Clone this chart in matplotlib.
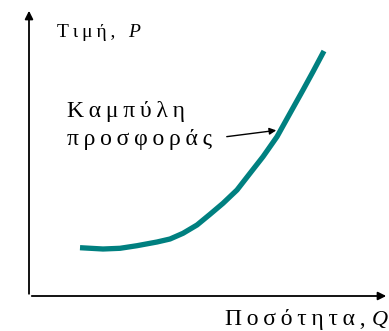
import numpy as np
import matplotlib.pyplot as plt

# supply curve (Q right, P up, in pixel-ish units)
quantity = [80, 103, 120, 137, 157, 170, 183, 197, 210, 223, 237, 250, 263, 277, 290, 303, 313, 324]
price = [83.3, 82, 82.7, 85.3, 89, 92, 97.7, 106, 116.7, 127.7, 141, 157.7, 174.3, 194.3, 217.7, 241, 259.3, 280]

price_label = 'Τιμή,'
qty_label = 'Ποσότητα,'
curve_label = ['Καμπύλη', 'προσφοράς']

def spaced(s, sep='\u2009'):
    return sep.join(s)

fig = plt.figure(figsize=(3.89, 3.31), dpi=100)
ax = fig.add_axes([0, 0, 1, 1])
ax.set_xlim(0, 389)
ax.set_ylim(0, 331)
ax.axis('off')

# axes with arrows
ax.annotate('', xy=(389, 35), xytext=(29, 35),
            arrowprops=dict(arrowstyle='-|>', color='black', lw=1.3, mutation_scale=12))
ax.annotate('', xy=(29, 323), xytext=(29, 34.4),
            arrowprops=dict(arrowstyle='-|>', color='black', lw=1.3, mutation_scale=12))

ax.plot(quantity, price, color='#008080', lw=3.8, solid_capstyle='butt')

serif = 'Liberation Serif'
ax.text(57, 294, spaced(price_label), fontsize=14, family=serif, va='baseline')
ax.text(128, 294, 'P', fontsize=14, family=serif, style='italic', va='baseline')

ax.text(67, 214, spaced(curve_label[0]), fontsize=17, family=serif, va='baseline')
ax.text(67, 186, spaced(curve_label[1]), fontsize=17, family=serif, va='baseline')
ax.annotate('', xy=(279, 201), xytext=(224, 194),
            arrowprops=dict(arrowstyle='-|>', color='black', lw=1, mutation_scale=10))

ax.text(366, 6, spaced(qty_label), fontsize=17, family=serif, va='baseline', ha='right')
ax.text(372, 6, 'Q', fontsize=16, family=serif, style='italic', va='baseline')

fig.savefig('out.png', dpi=100)
